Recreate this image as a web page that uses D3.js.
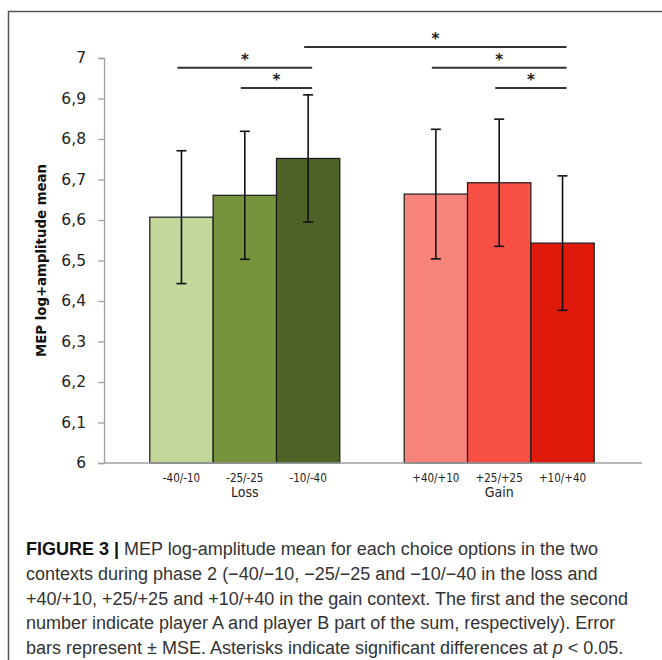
<!DOCTYPE html>
<html>
<head>
<meta charset="utf-8">
<script src="https://cdn.jsdelivr.net/npm/d3@7"></script>
<style>
  body { margin: 0; background: #fff; }
  svg { display: block; }
</style>
</head>
<body>
<svg width="662" height="660"></svg>
<script>
// data
const groups = ["Loss", "Gain"];
const options = ["-40/-10", "-25/-25", "-10/-40", "+40/+10", "+25/+25", "+10/+40"];
const optionGroup = ["Loss", "Loss", "Loss", "Gain", "Gain", "Gain"];
const means = [6.607, 6.661, 6.752, 6.664, 6.692, 6.543];
const errs = [0.164, 0.158, 0.157, 0.160, 0.157, 0.166];
const barColors = ["#c4d79b", "#77933c", "#4f6228", "#f8837a", "#f95045", "#e0190a"];
const yTicks = [6, 6.1, 6.2, 6.3, 6.4, 6.5, 6.6, 6.7, 6.8, 6.9, 7];
// significance brackets: from bar, to bar, height (axis units)
const sigFrom = [2, 0, 3, 1, 4];
const sigTo = [5, 2, 5, 2, 5];
const sigY = [7.027, 6.976, 6.926];
const sigLevel = [0, 1, 1, 2, 2];
const captionLines = [
  ["FIGURE 3 | ", "MEP log-amplitude mean for each choice options in the two"],
  ["", "contexts during phase 2 (\u221240/\u221210, \u221225/\u221225 and \u221210/\u221240 in the loss and"],
  ["", "+40/+10, +25/+25 and +10/+40 in the gain context. The first and the second"],
  ["", "number indicate player A and player B part of the sum, respectively). Error"],
  ["", "bars represent \u00b1 MSE. Asterisks indicate significant differences at "]
];

var margin = { top: 58, right: 22, bottom: 197, left: 104 }
var width = 662, height = 660

var svg = d3.select("svg")

// frame
svg.append("path")
  .attr("d", "M8.5,670 V11.5 H670")
  .attr("fill", "none")
  .attr("stroke", "#555")
  .attr("stroke-width", 1.5)

var y = d3.scaleLinear()
  .domain([6, 7])
  .range([height - margin.bottom, margin.top])

var x0 = d3.scaleBand()
  .domain(groups)
  .range([margin.left, width - margin.right])
  .paddingInner(0.253)
  .paddingOuter(0.18)

var x1 = d3.scaleBand()
  .domain([0, 1, 2])
  .range([0, x0.bandwidth()])

var data = options.map((o, i) => ({
  label: o, group: optionGroup[i], mean: means[i], err: errs[i], color: barColors[i], k: i % 3
}))
var cx = i => x0(data[i].group) + x1(data[i].k) + x1.bandwidth() / 2

// y axis
var yAxis = svg.append("g")
  .attr("transform", `translate(${margin.left},0)`)
  .call(d3.axisLeft(y).tickValues(yTicks).tickSize(6).tickPadding(12)
    .tickFormat(d => d3.format(".1~f")(d).replace(".", ",")))
yAxis.selectAll("line, path").attr("stroke", "#a0a0a0").attr("stroke-width", 1.3)
yAxis.selectAll("text")
  .attr("font-family", "DejaVu Sans")
  .attr("font-size", 15.5)
  .attr("fill", "#222")

svg.append("text")
  .attr("transform", `translate(46,${y(6.5)}) rotate(-90)`)
  .attr("text-anchor", "middle")
  .attr("font-family", "DejaVu Sans Condensed, DejaVu Sans")
  .attr("font-weight", "bold")
  .attr("font-size", 14.8)
  .attr("fill", "#111")
  .text("MEP log+amplitude mean")

// bars
svg.append("g")
  .selectAll("rect")
  .data(data)
  .join("rect")
    .attr("x", d => x0(d.group) + x1(d.k))
    .attr("y", d => y(d.mean))
    .attr("width", x1.bandwidth())
    .attr("height", d => y(6) - y(d.mean))
    .attr("fill", d => d.color)
    .attr("stroke", "#1a1a1a")
    .attr("stroke-width", 1.2)

// x axis line
svg.append("line")
  .attr("x1", margin.left).attr("x2", width - margin.right + 2)
  .attr("y1", y(6)).attr("y2", y(6))
  .attr("stroke", "#a0a0a0").attr("stroke-width", 1.5)

// error bars
var eb = svg.append("g").attr("stroke", "#111").attr("stroke-width", 1.6)
data.forEach((d, i) => {
  eb.append("line").attr("x1", cx(i)).attr("x2", cx(i))
    .attr("y1", y(d.mean + d.err)).attr("y2", y(d.mean - d.err))
  ;[d.mean + d.err, d.mean - d.err].forEach(v => {
    eb.append("line").attr("x1", cx(i) - 5).attr("x2", cx(i) + 5)
      .attr("y1", y(v)).attr("y2", y(v))
  })
})

// x labels
svg.append("g")
  .selectAll("text")
  .data(data)
  .join("text")
    .attr("x", (d, i) => cx(i))
    .attr("y", 482)
    .attr("text-anchor", "middle")
    .attr("font-family", "DejaVu Sans Condensed, DejaVu Sans")
    .attr("font-size", 11.5)
    .attr("fill", "#222")
    .text(d => d.label)

svg.append("g")
  .selectAll("text")
  .data(groups)
  .join("text")
    .attr("x", g => x0(g) + x0.bandwidth() / 2)
    .attr("y", 497)
    .attr("text-anchor", "middle")
    .attr("font-family", "DejaVu Sans Condensed, DejaVu Sans")
    .attr("font-size", 14)
    .attr("fill", "#222")
    .text(g => g)

// significance brackets
var sig = svg.append("g")
sigFrom.forEach((a, i) => {
  var yy = y(sigY[sigLevel[i]])
  var xa = cx(a) - 4, xb = cx(sigTo[i]) + 4
  sig.append("line")
    .attr("x1", xa).attr("x2", xb).attr("y1", yy).attr("y2", yy)
    .attr("stroke", "#333").attr("stroke-width", 2)
  sig.append("text")
    .attr("x", (xa + xb) / 2)
    .attr("y", yy - 3)
    .attr("text-anchor", "middle")
    .attr("font-family", "DejaVu Sans")
    .attr("font-weight", "bold")
    .attr("font-size", 15)
    .attr("fill", "#222")
    .text("*")
})

// caption
var cap = svg.append("g")
  .attr("font-family", "Liberation Sans")
  .attr("font-size", 18)
  .attr("fill", "#333")
captionLines.forEach((l, i) => {
  var t = cap.append("text").attr("x", 26).attr("y", 555 + i * 24.8)
  if (l[0]) t.append("tspan").attr("font-weight", "bold").attr("fill", "#111").text(l[0])
  t.append("tspan").text(l[1])
  if (i === captionLines.length - 1) {
    t.append("tspan").attr("font-style", "italic").text("p")
    t.append("tspan").text(" < 0.05.")
  }
})
</script>
</body>
</html>
